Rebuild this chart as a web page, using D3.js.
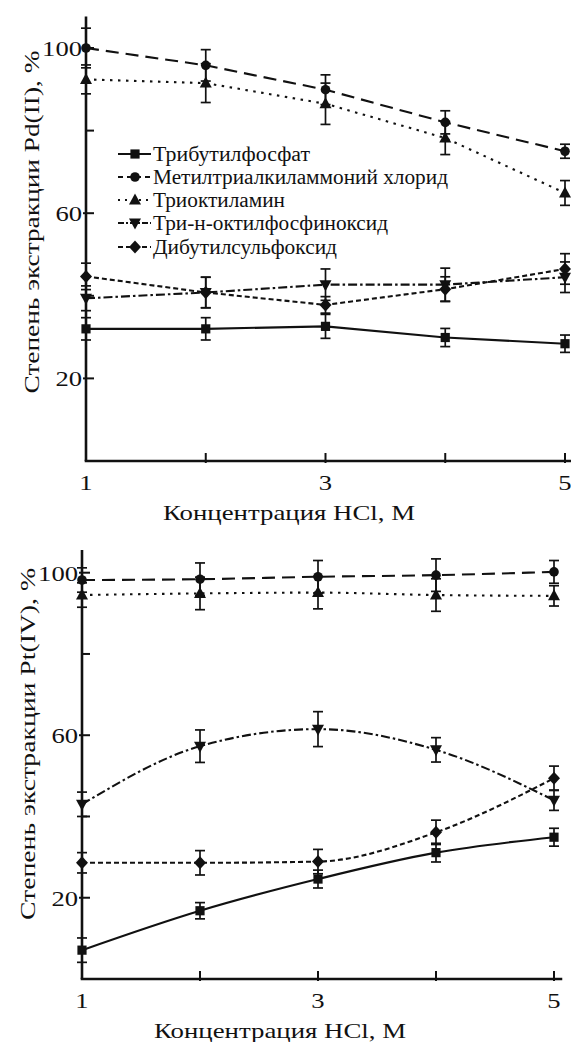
<!DOCTYPE html>
<html><head><meta charset="utf-8">
<script src="https://cdn.jsdelivr.net/npm/d3@7"></script>
<style>
body{margin:0;background:#fff}
svg{display:block}
text{font-family:"Liberation Serif","Times New Roman",serif;fill:#111}
</style>
</head><body>
<svg id="chart" width="571" height="1042"></svg>
<script>
// ---------------- DATA ----------------
const hclConc = [1, 2, 3, 4, 5];
const xTickValues = [1, 2, 3, 4, 5];
const xTickLabels = ["1", "", "3", "", "5"];
const yMajorTicks = [20, 60, 100];
const yMinorTicks = [40, 80];
const seriesNames = ["Трибутилфосфат", "Метилтриалкиламмоний хлорид", "Триоктиламин", "Три-н-октилфосфиноксид", "Дибутилсульфоксид"];
const xTitle = "Концентрация HCl, M";
const yTitlePd = "Степень экстракции Pd(II), %";
const yTitlePt = "Степень экстракции Pt(IV), %";

// Pd(II)
const pdTBP      = [32.0, 32.0, 32.6, 29.9, 28.4];
const pdTBPErr   = [2.7, 2.7, 2.9, 2.2, 2.1];
const pdMTAAC    = [100.0, 95.8, 89.9, 82.0, 75.0];
const pdMTAACErr = [4.8, 3.8, 3.6, 2.8, 1.7];
const pdTOA      = [92.4, 91.5, 86.5, 78.2, 64.9];
const pdTOAErr   = [3.5, 4.7, 5.0, 4.0, 3.0];
const pdTOPO     = [39.4, 40.8, 42.7, 42.7, 44.5];
const pdTOPOErr  = [3.0, 3.7, 3.8, 4.0, 3.7];
const pdDBSO     = [44.7, 40.8, 37.8, 41.6, 46.5];
const pdDBSOErr  = [3.2, 3.7, 2.0, 3.0, 3.7];

// Pt(IV)
const ptTBP      = [7.1, 16.8, 24.6, 31.1, 34.9];
const ptTBPErr   = [3.0, 2.0, 2.2, 2.3, 2.2];
const ptMTAAC    = [98.2, 98.4, 99.0, 99.4, 100.2];
const ptMTAACErr = [3.0, 4.0, 4.0, 4.0, 2.8];
const ptTOA      = [94.5, 94.9, 95.1, 94.5, 94.3];
const ptTOAErr   = [3.0, 4.0, 4.0, 4.0, 2.5];
const ptTOPO     = [43.0, 57.3, 61.5, 56.4, 44.0];
const ptTOPOErr  = [3.0, 4.0, 4.3, 3.0, 2.5];
const ptDBSO     = [28.6, 28.6, 28.9, 36.1, 49.4];
const ptDBSOErr  = [2.5, 3.0, 3.0, 3.0, 3.0];

// ---------------- STYLE ----------------
const markerTypes = ["square", "circle", "triangleUp", "triangleDown", "diamond"];
const dashes = [null, "13,7", "2.5,5.5", "9,3,2.5,3", "5,3"];
const ink = "#111";

const svg = d3.select("#chart");

function markerPath(type) {
  const p = d3.path();
  if (type === "square") { p.rect(-4.6, -4.6, 9.2, 9.2); }
  else if (type === "circle") { p.arc(0, 0, 4.8, 0, 2 * Math.PI); }
  else if (type === "triangleUp") { p.moveTo(0, -6.5); p.lineTo(6, 4.5); p.lineTo(-6, 4.5); p.closePath(); }
  else if (type === "triangleDown") { p.moveTo(0, 6.5); p.lineTo(6, -4.5); p.lineTo(-6, -4.5); p.closePath(); }
  else if (type === "diamond") { p.moveTo(0, -6.5); p.lineTo(6, 0); p.lineTo(0, 6.5); p.lineTo(-6, 0); p.closePath(); }
  return p.toString();
}

function stretchedText(sel, len) {
  sel.attr("textLength", len).attr("lengthAdjust", "spacingAndGlyphs");
}

function drawPanel(cfg) {
  const x = d3.scaleLinear().domain([1, 5]).range(cfg.xRange);
  const y = d3.scaleLinear().domain([0, 100]).range(cfg.yRange);
  const g = svg.append("g");
  const x0 = x(1), y0 = y(0);

  // axes lines
  g.append("line").attr("x1", x0).attr("x2", x0).attr("y1", y0).attr("y2", y(cfg.yTop))
    .attr("stroke", ink).attr("stroke-width", 2.6);
  g.append("line").attr("x1", x0 - 1.3).attr("x2", x(cfg.xEnd)).attr("y1", y0).attr("y2", y0)
    .attr("stroke", ink).attr("stroke-width", 2.6);

  // y ticks
  yMajorTicks.forEach(v => {
    g.append("line").attr("x1", x0 - 3).attr("x2", x0 + 8).attr("y1", y(v)).attr("y2", y(v))
      .attr("stroke", ink).attr("stroke-width", 2);
    const t = g.append("text").attr("x", x0 - 4).attr("y", y(v) + 8).attr("text-anchor", "end")
      .attr("font-size", 22).text(String(v));
    stretchedText(t, String(v).length * 13.3);
  });
  yMinorTicks.forEach(v => {
    g.append("line").attr("x1", x0).attr("x2", x0 + 8).attr("y1", y(v)).attr("y2", y(v))
      .attr("stroke", ink).attr("stroke-width", 2);
  });
  // x ticks
  xTickValues.forEach((v, i) => {
    if (v !== 1) {
      g.append("line").attr("x1", x(v)).attr("x2", x(v)).attr("y1", y0 + 2).attr("y2", y0 - 8)
        .attr("stroke", ink).attr("stroke-width", 2);
    }
    if (xTickLabels[i]) {
      const t = g.append("text").attr("x", x(v)).attr("y", y0 + 29).attr("text-anchor", "middle")
        .attr("font-size", 22).text(xTickLabels[i]);
      stretchedText(t, 13.3);
    }
  });

  // titles
  const xt = g.append("text").attr("x", cfg.xTitleX).attr("y", y0 + 59).attr("text-anchor", "middle")
    .attr("font-size", 22).text(xTitle);
  stretchedText(xt, 252);
  const yt = g.append("text").attr("transform", `translate(${cfg.yTitleX},${cfg.yTitleY}) rotate(-90)`)
    .attr("text-anchor", "middle").attr("dominant-baseline", "central")
    .attr("font-size", 22).text(cfg.yTitle);
  stretchedText(yt, cfg.yTitleLen);

  const line = d3.line().x((d, i) => x(hclConc[i])).y(d => y(d)).curve(cfg.curve);

  cfg.series.forEach((vals, s) => {
    g.append("path").attr("d", line(vals)).attr("fill", "none").attr("stroke", ink)
      .attr("stroke-width", 2.1).attr("stroke-dasharray", dashes[s]);
  });
  cfg.series.forEach((vals, s) => {
    const errs = cfg.errors[s];
    vals.forEach((v, i) => {
      const cx = x(hclConc[i]);
      const e = errs[i];
      g.append("line").attr("x1", cx).attr("x2", cx).attr("y1", y(v - e)).attr("y2", y(v + e))
        .attr("stroke", ink).attr("stroke-width", 1.7);
      [v - e, v + e].forEach(ev => {
        g.append("line").attr("x1", cx - 5).attr("x2", cx + 5).attr("y1", y(ev)).attr("y2", y(ev))
          .attr("stroke", ink).attr("stroke-width", 1.7);
      });
    });
  });
  cfg.series.forEach((vals, s) => {
    vals.forEach((v, i) => {
      g.append("path").attr("d", markerPath(markerTypes[s]))
        .attr("transform", `translate(${x(hclConc[i])},${y(v)})`).attr("fill", ink);
    });
  });
  return { g, x, y };
}

// Top panel: Pd(II)
drawPanel({
  xRange: [86, 565], yRange: [461, 48], yTop: 107.6, xEnd: 5.05,
  xTitleX: 289, yTitleX: 31, yTitleY: 222, yTitleLen: 343, yTitle: yTitlePd,
  curve: d3.curveLinear,
  series: [pdTBP, pdMTAAC, pdTOA, pdTOPO, pdDBSO],
  errors: [pdTBPErr, pdMTAACErr, pdTOAErr, pdTOPOErr, pdDBSOErr]
});

// Bottom panel: Pt(IV)
drawPanel({
  xRange: [82, 554], yRange: [979, 572.7], yTop: 105.6, xEnd: 5.07,
  xTitleX: 280, yTitleX: 27, yTitleY: 744, yTitleLen: 352, yTitle: yTitlePt,
  curve: d3.curveMonotoneX,
  series: [ptTBP, ptMTAAC, ptTOA, ptTOPO, ptDBSO],
  errors: [ptTBPErr, ptMTAACErr, ptTOAErr, ptTOPOErr, ptDBSOErr]
});

// Legend (in top panel)
const legendRowY = [154, 177, 200, 223, 247];
const legendTextLen = [157, 295, 132, 235, 184];
const leg = svg.append("g");
seriesNames.forEach((name, s) => {
  const ly = legendRowY[s];
  leg.append("line").attr("x1", 118).attr("x2", 151).attr("y1", ly).attr("y2", ly)
    .attr("stroke", ink).attr("stroke-width", 2).attr("stroke-dasharray", s === 2 ? "2,5" : (s === 1 ? "5,4" : (s === 3 ? "6,2,2,2" : dashes[s])));
  leg.append("path").attr("d", markerPath(markerTypes[s])).attr("transform", `translate(135,${ly})`).attr("fill", ink);
  const t = leg.append("text").attr("x", 153).attr("y", ly + 6.5).attr("font-size", 20).text(name);
  stretchedText(t, legendTextLen[s]);
});
</script>
</body></html>
